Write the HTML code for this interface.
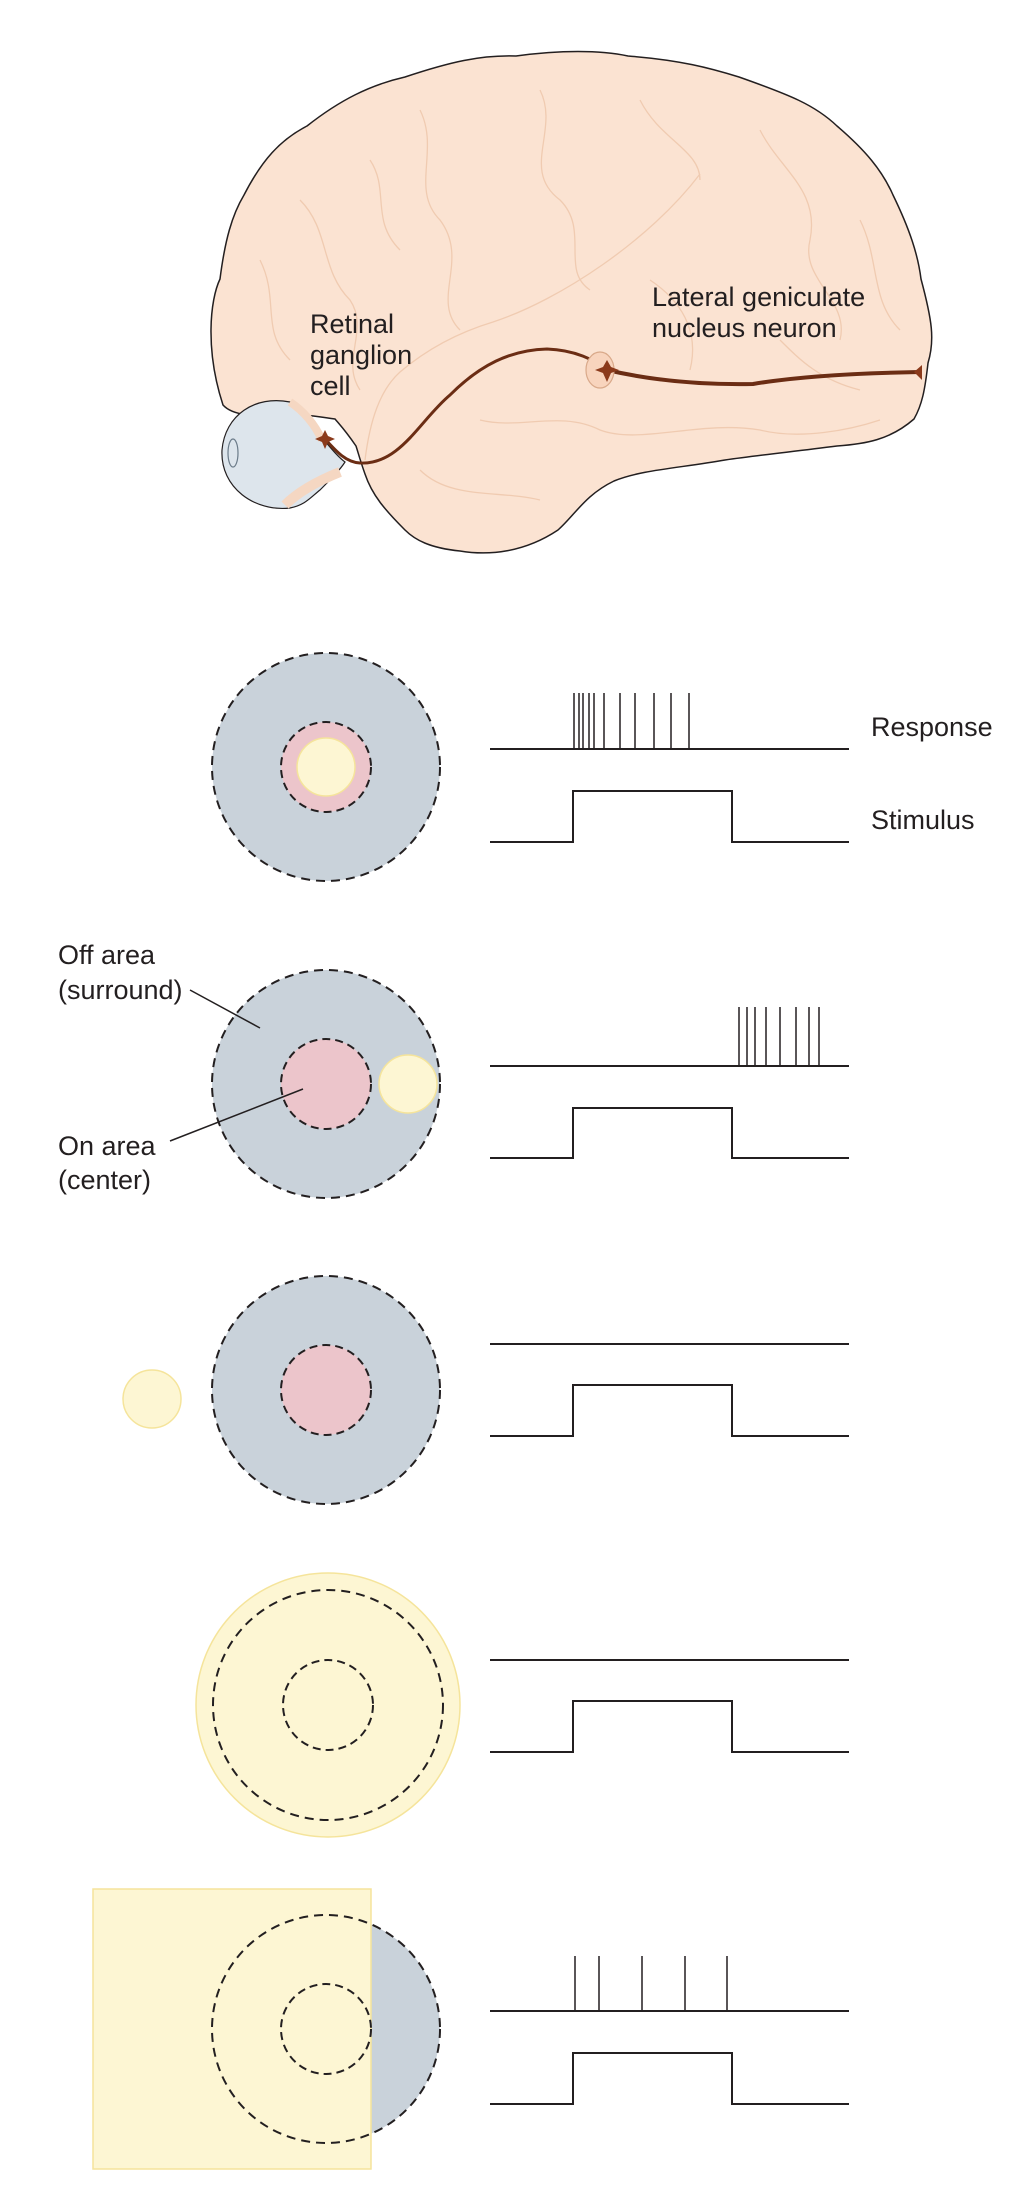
<!DOCTYPE html>
<html><head><meta charset="utf-8"><style>
html,body{margin:0;padding:0;background:#fff;}
svg{display:block;}
text{font-family:"Liberation Sans",sans-serif;font-size:27px;fill:#231f20;}
</style></head><body>
<svg width="1032" height="2189" viewBox="0 0 1032 2189" xmlns="http://www.w3.org/2000/svg">
<!-- Brain -->
<path d="M223,405 C205,350 210,300 220,279 C225,240 232,215 244,195 C262,160 280,140 307,126 C340,100 370,85 405,77 C450,62 480,55 516,56 C560,50 600,50 628,56 C680,60 710,68 739,77 C790,95 815,105 837,126 C865,150 882,170 893,195 C910,230 918,255 921,279 C932,320 935,340 928,363 C925,390 922,405 914,419 C890,440 865,444 837,446 C790,452 760,455 725,460 C680,468 640,470 614,481 C585,495 575,515 558,530 C525,552 490,556 460,551 C430,548 415,540 405,530 C385,510 372,495 365,474 C360,460 358,452 356,446 C345,430 340,425 335,419 C310,415 292,414 279,412 C255,418 232,415 223,405 Z" fill="#fbe3d2" stroke="#231f20" stroke-width="1.5"/>
<g fill="none" stroke="#f0cbb1" stroke-width="1.3">
<path d="M700,174 C650,240 560,300 493,322 C450,335 420,355 400,372 C380,390 370,420 365,460"/>
<path d="M300,200 C330,230 320,270 350,300 C370,330 340,360 360,390"/>
<path d="M420,110 C440,150 410,190 440,220 C470,260 430,300 460,330"/>
<path d="M540,90 C560,130 520,170 560,200 C590,230 560,270 590,290"/>
<path d="M640,100 C660,140 700,150 700,180"/>
<path d="M760,130 C780,170 820,190 810,240 C800,280 850,300 840,340"/>
<path d="M860,220 C880,260 870,300 900,330"/>
<path d="M480,420 C520,430 560,410 600,430 C640,445 700,420 760,430 C800,440 850,430 880,420"/>
<path d="M420,470 C450,500 500,490 540,500"/>
<path d="M260,260 C280,300 260,330 290,360"/>
<path d="M370,160 C390,190 370,220 400,250"/>
<path d="M650,280 C680,300 700,330 690,370"/>
<path d="M780,340 C800,360 820,380 860,390"/>
</g>
<!-- Eye -->
<path d="M290,402 C255,395 225,415 222,450 C220,488 255,512 290,508 C305,505 310,498 320,490 C330,480 340,470 345,462 C335,455 325,440 315,430 C305,415 300,408 290,402 Z" fill="#dde5ec" stroke="#231f20" stroke-width="1.2"/>
<ellipse cx="233" cy="453" rx="5" ry="14" fill="none" stroke="#6b7b89" stroke-width="1.2"/>
<path d="M285,505 C300,490 320,480 340,472" fill="none" stroke="#f5d7c2" stroke-width="10"/>
<path d="M290,402 C305,412 315,425 322,440" fill="none" stroke="#f5d7c2" stroke-width="8"/>
<!-- Axons -->
<path d="M325,439 C335,450 345,462 360,463 C400,465 420,420 450,395 C480,365 510,350 547,349 C575,350 595,360 607,370" fill="none" stroke="#6b2d14" stroke-width="3"/>
<path d="M607,370 C650,380 700,385 753,384 C800,376 860,373 920,372" fill="none" stroke="#6b2d14" stroke-width="4"/>
<ellipse cx="600" cy="370" rx="14" ry="18" fill="#f8d4bd" stroke="#d9a98a" stroke-width="1.2"/>
<polygon points="607,360 611,367 619,370 611,373 607,382 603,373 595,370 603,367" fill="#8b3a1b"/>
<polygon points="325,430 328,436 335,439 328,442 325,449 322,442 315,439 322,436" fill="#8b3a1b"/>
<polygon points="914,372 922,365 922,380" fill="#8b3a1b"/>
<text x="310" y="333">Retinal</text>
<text x="310" y="364">ganglion</text>
<text x="310" y="395">cell</text>
<text x="652" y="306">Lateral geniculate</text>
<text x="652" y="337">nucleus neuron</text>

<g stroke="#231f20" stroke-width="2" fill="none">
<!-- Row 1 -->
<circle cx="326" cy="767" r="114" fill="#c9d2da" stroke-dasharray="9,6"/>
<circle cx="326" cy="767" r="45" fill="#ecc5cb" stroke-dasharray="8,5"/>
<circle cx="326" cy="767" r="29" fill="#fdf6d3" stroke="#f5e49b" stroke-width="1.5"/>
<path d="M490,749 H849"/>
<path d="M574,749V693 M579,749V693 M583,749V693 M589,749V693 M594,749V693 M604,749V693 M620,749V693 M635,749V693 M654,749V693 M671,749V693 M689,749V693" stroke-width="1.5"/>
<path d="M490,842 H573 V791 H732 V842 H849"/>
<!-- Row 2 -->
<circle cx="326" cy="1084" r="114" fill="#c9d2da" stroke-dasharray="9,6"/>
<circle cx="326" cy="1084" r="45" fill="#ecc5cb" stroke-dasharray="8,5"/>
<circle cx="408" cy="1084" r="29" fill="#fdf6d3" stroke="#f5e49b" stroke-width="1.5"/>
<path d="M490,1066 H849"/>
<path d="M739,1066V1007 M747,1066V1007 M755,1066V1007 M766,1066V1007 M780,1066V1007 M796,1066V1007 M809,1066V1007 M819,1066V1007" stroke-width="1.5"/>
<path d="M490,1158 H573 V1108 H732 V1158 H849"/>
<path d="M190,990 L260,1028" stroke-width="1.5"/>
<path d="M170,1141 L303,1089" stroke-width="1.5"/>
<!-- Row 3 -->
<circle cx="326" cy="1390" r="114" fill="#c9d2da" stroke-dasharray="9,6"/>
<circle cx="326" cy="1390" r="45" fill="#ecc5cb" stroke-dasharray="8,5"/>
<circle cx="152" cy="1399" r="29" fill="#fdf6d3" stroke="#f5e49b" stroke-width="1.5"/>
<path d="M490,1344 H849"/>
<path d="M490,1436 H573 V1385 H732 V1436 H849"/>
<!-- Row 4 -->
<circle cx="328" cy="1705" r="132" fill="#fdf6d3" stroke="#f5e49b" stroke-width="1.5"/>
<circle cx="328" cy="1705" r="115" stroke-dasharray="9,6"/>
<circle cx="328" cy="1705" r="45" stroke-dasharray="8,5"/>
<path d="M490,1660 H849"/>
<path d="M490,1752 H573 V1701 H732 V1752 H849"/>
<!-- Row 5 -->
<circle cx="326" cy="2029" r="114" fill="#c9d2da" stroke="none"/>
<rect x="93" y="1889" width="278" height="280" fill="#fdf6d3" stroke="#f5e49b" stroke-width="1.5"/>
<circle cx="326" cy="2029" r="114" stroke-dasharray="9,6"/>
<circle cx="326" cy="2029" r="45" stroke-dasharray="8,5"/>
<path d="M490,2011 H849"/>
<path d="M575,2011V1956 M599,2011V1956 M642,2011V1956 M685,2011V1956 M727,2011V1956" stroke-width="1.5"/>
<path d="M490,2104 H573 V2053 H732 V2104 H849"/>
</g>
<text x="871" y="736">Response</text>
<text x="871" y="829">Stimulus</text>
<text x="58" y="964">Off area</text>
<text x="58" y="999">(surround)</text>
<text x="58" y="1155">On area</text>
<text x="58" y="1189">(center)</text>
</svg>
</body></html>
